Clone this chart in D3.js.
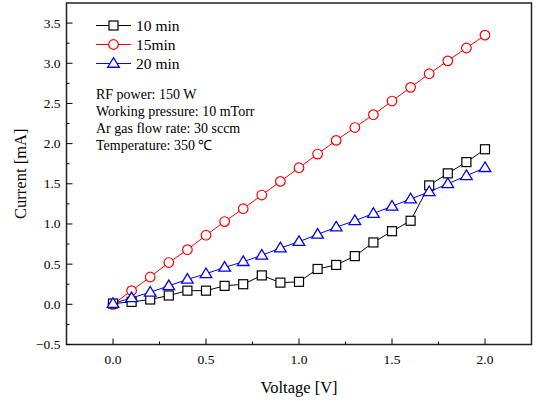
<!DOCTYPE html>
<html>
<head>
<meta charset="utf-8">
<script src="https://cdn.jsdelivr.net/npm/d3@7"></script>
<style>
  body { margin: 0; background: #fff; }
  svg { display: block; }
  text { font-family: "Liberation Serif", "Times New Roman", serif; fill: #000; }
</style>
</head>
<body>
<svg width="536" height="401" font-family="Liberation Serif, serif"></svg>
<script>
// Data
const voltage = [0, 0.1, 0.2, 0.3, 0.4, 0.5, 0.6, 0.7, 0.8, 0.9, 1.0,
                 1.1, 1.2, 1.3, 1.4, 1.5, 1.6, 1.7, 1.8, 1.9, 2.0];
const current10 = [0.01, 0.03, 0.06, 0.11, 0.17, 0.17, 0.23, 0.25, 0.36, 0.27, 0.28,
                   0.44, 0.49, 0.60, 0.77, 0.91, 1.04, 1.48, 1.63, 1.77, 1.93];
const current15 = [0.00, 0.17, 0.34, 0.52, 0.68, 0.86, 1.03, 1.19, 1.36, 1.53, 1.70,
                   1.87, 2.04, 2.20, 2.36, 2.53, 2.70, 2.87, 3.03, 3.19, 3.35];
const current20 = [0.01, 0.08, 0.15, 0.23, 0.31, 0.38, 0.46, 0.53, 0.61, 0.70, 0.78,
                   0.87, 0.96, 1.04, 1.13, 1.22, 1.31, 1.40, 1.50, 1.60, 1.70];
const seriesNames = ["10 min", "15min", "20 min"];
const xTicks = [0, 0.5, 1.0, 1.5, 2.0];
const yTicks = [-0.5, 0, 0.5, 1.0, 1.5, 2.0, 2.5, 3.0, 3.5];
const notes = ["RF power: 150 W", "Working pressure: 10 mTorr",
               "Ar gas flow rate: 30 sccm", "Temperature: 350 \u2103"];

const svg = d3.select("svg");
const margin = {left: 66.5, right: 4.5, top: 3, bottom: 56.5};
const W = 536, H = 401;

const x = d3.scaleLinear().domain([-0.25, 2.25]).range([margin.left, W - margin.right]);
const y = d3.scaleLinear().domain([-0.5, 3.75]).range([H - margin.bottom, margin.top]);

// frame
svg.append("rect")
    .attr("x", x.range()[0]).attr("y", y.range()[1])
    .attr("width", x.range()[1] - x.range()[0])
    .attr("height", y.range()[0] - y.range()[1])
    .attr("fill", "none").attr("stroke", "#222").attr("stroke-width", 1.5);

// x axis, ticks inside
const xAxis = svg.append("g").attr("transform", `translate(0,${y.range()[0]})`);
xAxis.selectAll("line.minor")
    .data(d3.range(-0.25, 2.26, 0.5).filter(v => v > -0.25 && v < 2.25))
    .join("line")
    .attr("x1", d => x(d)).attr("x2", d => x(d))
    .attr("y1", 0).attr("y2", -3).attr("stroke", "#000").attr("stroke-width", 1);
xAxis.selectAll("line.major").data(xTicks).join("line")
    .attr("x1", d => x(d)).attr("x2", d => x(d))
    .attr("y1", 0).attr("y2", -6).attr("stroke", "#000").attr("stroke-width", 1);
xAxis.selectAll("text").data(xTicks).join("text")
    .attr("x", d => x(d)).attr("y", 19.5)
    .attr("text-anchor", "middle").attr("font-size", 13.5)
    .text(d => d3.format(".1f")(d));

// y axis
const yAxis = svg.append("g").attr("transform", `translate(${x.range()[0]},0)`);
yAxis.selectAll("line.minor")
    .data(d3.range(-0.25, 3.75, 0.5))
    .join("line")
    .attr("y1", d => y(d)).attr("y2", d => y(d))
    .attr("x1", 0).attr("x2", 3).attr("stroke", "#000").attr("stroke-width", 1);
yAxis.selectAll("line.major").data(yTicks).join("line")
    .attr("y1", d => y(d)).attr("y2", d => y(d))
    .attr("x1", 0).attr("x2", 6).attr("stroke", "#000").attr("stroke-width", 1);
yAxis.selectAll("text").data(yTicks).join("text")
    .attr("x", -6).attr("y", d => y(d) + 4.5)
    .attr("text-anchor", "end").attr("font-size", 13.5)
    .text(d => d3.format(".1f")(d));

// axis titles
svg.append("text").attr("x", x(1.0)).attr("y", 393)
    .attr("text-anchor", "middle").attr("font-size", 16.5).text("Voltage [V]");
svg.append("text").attr("transform", `translate(26,${(y.range()[0] + y.range()[1]) / 2}) rotate(-90)`)
    .attr("text-anchor", "middle").attr("font-size", 16.5).text("Current [mA]");

// markers
function drawMarker(g, kind, color, cx, cy) {
    if (kind === "square") {
        g.append("rect").attr("x", cx - 4.5).attr("y", cy - 4.5)
            .attr("width", 9).attr("height", 9)
            .attr("fill", "#fff").attr("stroke", color).attr("stroke-width", 1.2);
    } else if (kind === "circle") {
        g.append("circle").attr("cx", cx).attr("cy", cy).attr("r", 4.8)
            .attr("fill", "#fff").attr("stroke", color).attr("stroke-width", 1.2);
    } else {
        const s = 5.8;
        g.append("path")
            .attr("d", `M${cx},${cy - s}L${cx + s * 1.0},${cy + s * 0.65}L${cx - s * 1.0},${cy + s * 0.65}Z`)
            .attr("fill", "#fff").attr("stroke", color).attr("stroke-width", 1.3);
    }
}

const series = [
    {name: seriesNames[0], values: current10, color: "#000000", kind: "square"},
    {name: seriesNames[1], values: current15, color: "#ff0000", kind: "circle"},
    {name: seriesNames[2], values: current20, color: "#0000ff", kind: "triangle"}
];

const line = d3.line().x(d => x(d[0])).y(d => y(d[1]));

const plot = svg.append("g");
series.forEach(s => {
    const pts = voltage.map((v, i) => [v, s.values[i]]);
    plot.append("path").datum(pts)
        .attr("d", line).attr("fill", "none")
        .attr("stroke", s.color).attr("stroke-width", 1);
});
// red markers under the others, as at the origin in the picture
[series[1], series[0], series[2]].forEach(s => {
    const g = plot.append("g");
    voltage.forEach((v, i) => drawMarker(g, s.kind, s.color, x(v), y(s.values[i])));
});

// legend
const legend = svg.append("g");
series.forEach((s, i) => {
    const ly = 25.5 + i * 19;
    legend.append("line").attr("x1", 96).attr("x2", 131).attr("y1", ly).attr("y2", ly)
        .attr("stroke", s.color).attr("stroke-width", 1);
    drawMarker(legend, s.kind, s.color, 113.5, ly);
    legend.append("text").attr("x", 136).attr("y", ly + 5)
        .attr("font-size", 15.5).text(s.name);
});

// notes
svg.append("g").selectAll("text").data(notes).join("text")
    .attr("x", 96).attr("y", (d, i) => 98.5 + i * 17.2)
    .attr("font-size", 14).text(d => d);
</script>
</body>
</html>
